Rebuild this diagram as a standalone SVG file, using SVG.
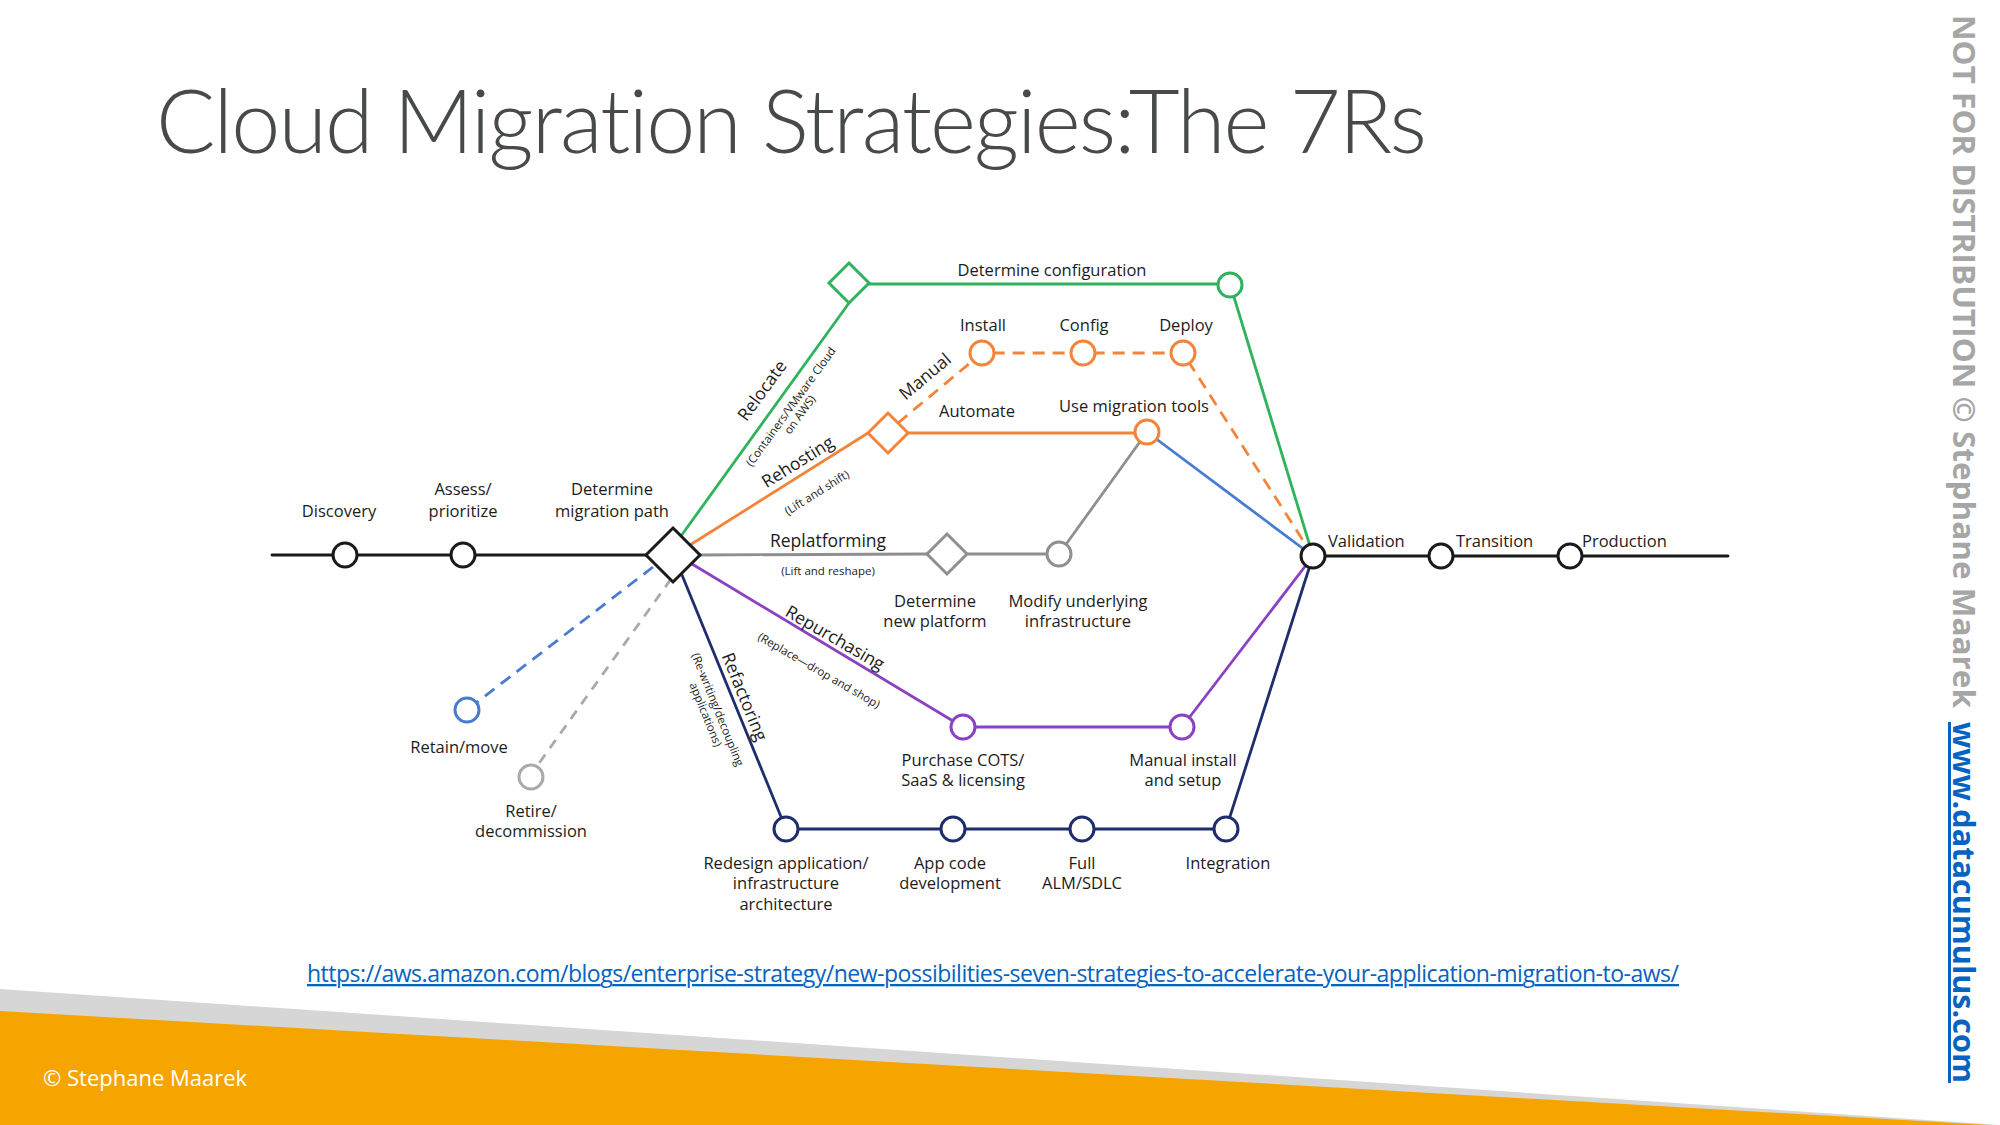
<svg xmlns="http://www.w3.org/2000/svg" width="2000" height="1125" viewBox="0 0 2000 1125">
  <style>
    .title { font-family: Lato, "Open Sans", sans-serif; font-weight: 300; font-size: 88px; fill: #474a4a; font-variant-ligatures: none; }
    .lbl { font-family: "Open Sans", "Liberation Sans", sans-serif; font-weight: 500; font-size: 16.5px; fill: #1c1c1c; text-anchor: middle; }
    .lft { text-anchor: start; }
    .br { font-size: 17.5px; }
    .sm { font-size: 11.5px; }
    .ln { fill: none; stroke-width: 2.8; stroke-linecap: round; stroke-linejoin: round; }
    .node { fill: #ffffff; stroke-width: 3; }
    .k { stroke: #1a1a1a; }
    .g { stroke: #2fb35c; }
    .o { stroke: #f4843a; }
    .gr { stroke: #8f8f8f; }
    .grl { stroke: #aaaaaa; }
    .b { stroke: #4a7bd3; }
    .p { stroke: #8a42c2; }
    .n { stroke: #1e2d6d; }
    .dash { stroke-dasharray: 12 8; stroke-linecap: butt; }
    .dash2 { stroke-dasharray: 10 8; stroke-linecap: butt; }
    .url { font-family: "Open Sans", "Liberation Sans", sans-serif; font-size: 23px; fill: #0563c1; text-decoration: underline; }
    .copy { font-family: "Open Sans", "Liberation Sans", sans-serif; font-size: 22px; fill: #ffffff; }
    .wm { font-family: "Open Sans", "Liberation Sans", sans-serif; font-weight: 700; font-size: 30px; }
  </style>

  <rect width="2000" height="1125" fill="#ffffff"/>

  <!-- slide title -->
  <text class="title" x="156" y="153" textLength="1271">Cloud Migration Strategies:The 7Rs</text>

  <!-- connectors -->
  <g id="connectors">
    <!-- main track -->
    <path class="ln k" stroke-width="3.2" d="M272 555 H673"/>
    <path class="ln k" stroke-width="3.2" d="M1313 556 H1728"/>
    <!-- relocate -->
    <path class="ln g" d="M681 536 L849 303 M869 284 H1230 L1313 556"/>
    <!-- rehosting: automate -->
    <path class="ln o" stroke-width="3" d="M690 545 L868 433 H1147"/>
    <!-- rehosting: manual -->
    <path class="ln o dash" stroke-width="3" d="M898 423 L982 353 H1183 L1313 556"/>
    <!-- migration tools to validation -->
    <path class="ln b" d="M1147 432 L1313 556"/>
    <!-- replatforming -->
    <path class="ln gr" d="M700 555 L927 554 H1059 L1147 432"/>
    <!-- repurchasing -->
    <path class="ln p" d="M692 564 L963 727 H1182 L1313 556"/>
    <!-- refactoring -->
    <path class="ln n" d="M682 575 L786 829 H1226 L1313 556"/>
    <!-- retain / retire -->
    <path class="ln b dash" d="M653 567 L476 703"/>
    <path class="ln grl dash2" d="M671 579 L537 766"/>
  </g>

  <!-- branch labels -->
  <g id="branch-labels">
    <text class="lbl br" transform="translate(767,394) rotate(-54)">Relocate</text>
    <text class="lbl sm" transform="translate(794,409) rotate(-54)">(Containers/VMware Cloud</text>
    <text class="lbl sm" transform="translate(803,417) rotate(-54)">on AWS)</text>
    <text class="lbl br" transform="translate(801,467) rotate(-32)">Rehosting</text>
    <text class="lbl sm" transform="translate(819,496) rotate(-32)">(Lift and shift)</text>
    <text class="lbl br" transform="translate(929,381) rotate(-40)">Manual</text>
    <text class="lbl br" x="828" y="547">Replatforming</text>
    <text class="lbl sm" x="828" y="575">(Lift and reshape)</text>
    <text class="lbl br" transform="translate(832,643) rotate(30)">Repurchasing</text>
    <text class="lbl sm" transform="translate(817,674) rotate(30)">(Replace—drop and shop)</text>
    <text class="lbl br" transform="translate(739,699) rotate(68)">Refactoring</text>
    <text class="lbl sm" transform="translate(714,711) rotate(68)">(Re-writing/decoupling</text>
    <text class="lbl sm" transform="translate(702,716) rotate(68)">applications)</text>
  </g>

  <!-- nodes -->
  <g id="n-discovery">
    <circle class="node k" cx="345" cy="555" r="12"/>
    <text class="lbl" x="339" y="517">Discovery</text>
  </g>
  <g id="n-assess">
    <circle class="node k" cx="463" cy="555" r="12"/>
    <text class="lbl" x="463" y="495">Assess/</text>
    <text class="lbl" x="463" y="517">prioritize</text>
  </g>
  <g id="n-path">
    <polygon class="node k" stroke-width="3.5" points="673,528 700,555 673,582 646,555"/>
    <text class="lbl" x="612" y="495">Determine</text>
    <text class="lbl" x="612" y="517">migration path</text>
  </g>
  <g id="n-relocate">
    <polygon class="node g" points="849,263 869,283 849,303 829,283"/>
  </g>
  <g id="n-configuration">
    <circle class="node g" cx="1230" cy="285" r="12"/>
    <text class="lbl" x="1052" y="276">Determine configuration</text>
  </g>
  <g id="n-rehost">
    <polygon class="node o" points="888,413 908,433 888,453 868,433"/>
    <text class="lbl" x="977" y="417">Automate</text>
  </g>
  <g id="n-install">
    <circle class="node o" cx="982" cy="353" r="12"/>
    <text class="lbl" x="983" y="331">Install</text>
  </g>
  <g id="n-config">
    <circle class="node o" cx="1083" cy="353" r="12"/>
    <text class="lbl" x="1084" y="331">Config</text>
  </g>
  <g id="n-deploy">
    <circle class="node o" cx="1183" cy="353" r="12"/>
    <text class="lbl" x="1186" y="331">Deploy</text>
  </g>
  <g id="n-tools">
    <circle class="node o" cx="1147" cy="432" r="12"/>
    <text class="lbl" x="1134" y="412">Use migration tools</text>
  </g>
  <g id="n-platform">
    <polygon class="node gr" points="947,534 967,554 947,574 927,554"/>
    <text class="lbl" x="935" y="607">Determine</text>
    <text class="lbl" x="935" y="627">new platform</text>
  </g>
  <g id="n-modify">
    <circle class="node gr" cx="1059" cy="554" r="12"/>
    <text class="lbl" x="1078" y="607">Modify underlying</text>
    <text class="lbl" x="1078" y="627">infrastructure</text>
  </g>
  <g id="n-cots">
    <circle class="node p" cx="963" cy="727" r="12"/>
    <text class="lbl" x="963" y="766">Purchase COTS/</text>
    <text class="lbl" x="963" y="786">SaaS &amp; licensing</text>
  </g>
  <g id="n-manual-install">
    <circle class="node p" cx="1182" cy="727" r="12"/>
    <text class="lbl" x="1183" y="766">Manual install</text>
    <text class="lbl" x="1183" y="786">and setup</text>
  </g>
  <g id="n-redesign">
    <circle class="node n" cx="786" cy="829" r="12"/>
    <text class="lbl" x="786" y="869">Redesign application/</text>
    <text class="lbl" x="786" y="889">infrastructure</text>
    <text class="lbl" x="786" y="910">architecture</text>
  </g>
  <g id="n-appcode">
    <circle class="node n" cx="953" cy="829" r="12"/>
    <text class="lbl" x="950" y="869">App code</text>
    <text class="lbl" x="950" y="889">development</text>
  </g>
  <g id="n-alm">
    <circle class="node n" cx="1082" cy="829" r="12"/>
    <text class="lbl" x="1082" y="869">Full</text>
    <text class="lbl" x="1082" y="889">ALM/SDLC</text>
  </g>
  <g id="n-integration">
    <circle class="node n" cx="1226" cy="829" r="12"/>
    <text class="lbl" x="1228" y="869">Integration</text>
  </g>
  <g id="n-retain">
    <circle class="node b" cx="467" cy="710" r="12"/>
    <text class="lbl" x="459" y="753">Retain/move</text>
  </g>
  <g id="n-retire">
    <circle class="node grl" cx="531" cy="777" r="12"/>
    <text class="lbl" x="531" y="817">Retire/</text>
    <text class="lbl" x="531" y="837">decommission</text>
  </g>
  <g id="n-validation">
    <circle class="node k" cx="1313" cy="556" r="12"/>
    <text class="lbl lft" x="1328" y="547">Validation</text>
  </g>
  <g id="n-transition">
    <circle class="node k" cx="1441" cy="556" r="12"/>
    <text class="lbl lft" x="1456" y="547">Transition</text>
  </g>
  <g id="n-production">
    <circle class="node k" cx="1570" cy="556" r="12"/>
    <text class="lbl lft" x="1582" y="547">Production</text>
  </g>

  <!-- source link -->
  <text class="url" x="307" y="982" textLength="1372">https://aws.amazon.com/blogs/enterprise-strategy/new-possibilities-seven-strategies-to-accelerate-your-application-migration-to-aws/</text>

  <!-- footer bands -->
  <polygon points="0,989 2000,1125 0,1125" fill="#d6d6d6"/>
  <polygon points="0,1011 1990,1125 0,1125" fill="#f6a500"/>
  <text class="copy" x="43" y="1086">© Stephane Maarek</text>

  <!-- vertical side notice -->
  <text class="wm" fill="#a6a6a6" transform="translate(1953,15) rotate(90)" textLength="693" lengthAdjust="spacingAndGlyphs">NOT FOR DISTRIBUTION © Stephane Maarek</text>
  <text class="wm" fill="#0563c1" text-decoration="underline" transform="translate(1953,722) rotate(90)" textLength="361" lengthAdjust="spacingAndGlyphs">www.datacumulus.com</text>
</svg>
